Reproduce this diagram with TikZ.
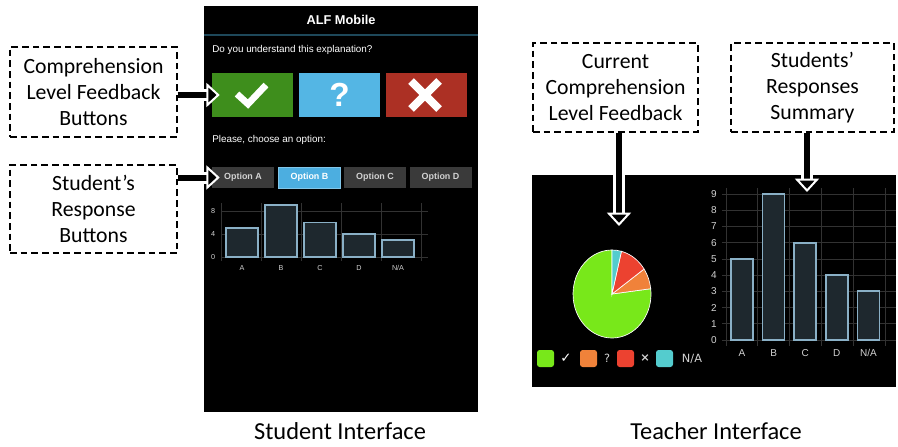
\documentclass[tikz,border=0pt]{standalone}
\usepackage{fontspec}
\setmainfont{Carlito}
\newfontfamily\uifont{Liberation Sans}
\newfontfamily\symfont{DejaVu Sans}
\usetikzlibrary{arrows.meta}
\definecolor{okgreen}{RGB}{62,142,28}
\definecolor{qblue}{RGB}{84,182,228}
\definecolor{nored}{RGB}{172,48,36}
\definecolor{optgray}{RGB}{58,58,58}
\definecolor{optblue}{RGB}{76,174,224}
\definecolor{barfill}{RGB}{30,40,46}
\definecolor{barline}{RGB}{138,176,198}
\definecolor{gridgray}{RGB}{50,50,50}
\definecolor{piegreen}{RGB}{120,232,26}
\definecolor{pieorange}{RGB}{240,130,58}
\definecolor{piered}{RGB}{236,66,48}
\definecolor{piecyan}{RGB}{84,204,206}
\definecolor{uitext}{RGB}{210,210,210}
\definecolor{headline}{RGB}{30,72,90}
\tikzset{
  callout/.style={draw,line width=1.1pt,dash pattern=on 5pt off 3pt,align=center,inner sep=0pt,
    font=\fontsize{16.3}{19.5}\selectfont},
  caption/.style={font=\fontsize{18.3}{22}\selectfont,inner sep=1pt},
  fbbtn/.style={minimum width=60.75pt,minimum height=33pt,inner sep=0pt},
  optbtn/.style={fill=optgray,minimum width=46.5pt,minimum height=15.75pt,inner sep=0pt,text=uitext,
    font=\uifont\bfseries\fontsize{6.7}{8}\selectfont},
  uilabel/.style={text=white,font=\uifont\fontsize{7.4}{9}\selectfont,anchor=west,inner sep=0pt},
  smalltick/.style={text=uitext,font=\uifont\fontsize{5.4}{6}\selectfont,inner sep=0pt},
  bigtick/.style={text=uitext,font=\uifont\fontsize{7.5}{9}\selectfont,inner sep=0pt},
  legsq/.style={minimum size=12.75pt,inner sep=0pt,rounded corners=2pt},
  legtxt/.style={text=uitext,font=\symfont\fontsize{8.5}{10}\selectfont,inner sep=0pt},
  bar/.style={fill=barfill,draw=barline,line width=1.3pt},
  grid line/.style={draw=gridgray,line width=0.6pt},
  halo/.style={draw=white,line width=9pt,shorten >=9pt,shorten <=0.8pt},
  pointer/.style={draw=black,line width=4.5pt,
    -{Triangle[width=18pt,length=10pt,color=white,fill=black,line width=1.5pt]}},
}
\begin{document}
\begin{tikzpicture}[x=0.75pt,y=0.75pt,yscale=-1,xscale=1]
\useasboundingbox (0,0) rectangle (898,446);
\fill[black] (204,6) rectangle (478,412);
\fill[black] (532,175) rectangle (896,387);
\draw[headline,line width=1.2pt] (204,35) -- (478,35);
\node[text=white,font=\uifont\bfseries\fontsize{9.6}{11}\selectfont] (apptitle) at (341,20) {ALF Mobile};
\node[uilabel] (question) at (212,50) {Do you understand this explanation?};
\node[fbbtn,fill=okgreen] (gbtn) at (252.5,95) {};
\node[fbbtn,fill=qblue] (qbtn) at (339.5,95) {};
\node[fbbtn,fill=nored] (xbtn) at (426.5,95) {};
\draw[white,line width=5pt] (237,94) -- (248,104) -- (266,85);
\node[text=white,font=\uifont\bfseries\fontsize{25}{25}\selectfont] (qmark) at (qbtn) {?};
\draw[white,line width=6pt] (411,81) -- (439,109) (411,109) -- (439,81);
\node[uilabel] (choose) at (212,140) {Please, choose an option:};
\node[optbtn] (optA) at (243,177.5) {Option A};
\node[optbtn,fill=optblue,draw=optblue!70!white,line width=0.6pt,text=white] (optB) at (309.5,177.5) {Option B};
\node[optbtn] (optC) at (375,177.5) {Option C};
\node[optbtn] (optD) at (440.5,177.5) {Option D};
\foreach \v in {0,4,8} {
  \draw[grid line] (221,{257-5.75*\v}) -- (428,{257-5.75*\v});
  \node[smalltick] (sax\v) at (213,{257-5.75*\v}) {\v};
}
\foreach \i in {0,...,5} \draw[grid line] ({221+40*\i},203) -- ({221+40*\i},261);
\foreach \v [count=\i from 0] in {5,9,6,4,3} \draw[bar] ({226+39*\i},257) rectangle ({258+39*\i},{257-5.75*\v});
\foreach \c [count=\i from 0] in {A,B,C,D,N/A} \node[smalltick] (sbl\i) at ({242+39*\i},268) {\c};
\foreach \v in {0,...,9} {
  \draw[grid line] (722,{340-16.22*\v}) -- (896,{340-16.22*\v});
  \node[bigtick] (tax\v) at (714,{340-16.22*\v}) {\v};
}
\foreach \i in {0,...,5} \draw[grid line] ({726+31.8*\i},188) -- ({726+31.8*\i},346);
\foreach \v [count=\i from 0] in {5,9,6,4,3} \draw[bar] ({731+31.6*\i},340) rectangle ({753+31.6*\i},{340-16.22*\v});
\foreach \c [count=\i from 0] in {A,B,C,D,N/A} \node[bigtick] (tbl\i) at ({742+31.6*\i},353) {\c};
\coordinate (pc) at (612,294);
\filldraw[fill=piegreen,draw=white,line width=0.5pt] (pc) -- ++(-6.9:39 and 44) arc[start angle=-6.9,end angle=270,x radius=39,y radius=44] -- cycle;
\filldraw[fill=pieorange,draw=white,line width=0.5pt] (pc) -- ++(-34.6:39 and 44) arc[start angle=-34.6,end angle=-6.9,x radius=39,y radius=44] -- cycle;
\filldraw[fill=piered,draw=white,line width=0.5pt] (pc) -- ++(-76:39 and 44) arc[start angle=-76,end angle=-34.6,x radius=39,y radius=44] -- cycle;
\filldraw[fill=piecyan,draw=white,line width=0.5pt] (pc) -- ++(-90:39 and 44) arc[start angle=-90,end angle=-76,x radius=39,y radius=44] -- cycle;
\node[legsq,fill=piegreen] (lg1) at (545.5,358.5) {};
\node[legtxt,text=white,font=\symfont\bfseries\fontsize{10}{10}\selectfont] (lt1) at (566,358.5) {✓};
\node[legsq,fill=pieorange] (lg2) at (588.5,358.5) {};
\node[legtxt] (lt2) at (607,358.5) {?};
\node[legsq,fill=piered] (lg3) at (625.5,358.5) {};
\node[legtxt,font=\symfont\bfseries\fontsize{8.5}{10}\selectfont] (lt3) at (645,358.5) {×};
\node[legsq,fill=piecyan] (lg4) at (664.5,358.5) {};
\node[legtxt] (lt4) at (692,358.5) {N/A};
\node[callout,minimum width=125.25pt,minimum height=67.5pt] (cmplab) at (93.5,92) {Comprehension\\Level Feedback\\Buttons};
\node[callout,minimum width=125.25pt,minimum height=66pt] (stdlab) at (93.5,209) {Student’s\\Response\\Buttons};
\node[callout,minimum width=123.75pt,minimum height=66.75pt] (curlab) at (615.5,87.5) {Current\\Comprehension\\Level Feedback};
\node[callout,minimum width=122.25pt,minimum height=66.75pt] (sumlab) at (812.5,87.5) {Students’\\Responses\\Summary};
\coordinate (curtip) at (619,226);
\coordinate (sumtip) at (807,192);
\draw[halo] (cmplab.east |- gbtn) -- ([xshift=6pt]gbtn.west);
\draw[pointer] (cmplab.east |- gbtn) -- ([xshift=6pt]gbtn.west);
\draw[halo] (stdlab.east |- optA) -- ([xshift=6pt]optA.west);
\draw[pointer] (stdlab.east |- optA) -- ([xshift=6pt]optA.west);
\draw[halo] (curlab.south -| curtip) -- (curtip);
\draw[pointer] (curlab.south -| curtip) -- (curtip);
\draw[halo] (sumlab.south -| sumtip) -- (sumtip);
\draw[pointer] (sumlab.south -| sumtip) -- (sumtip);
\node[caption] (stucap) at (340,431) {Student Interface};
\node[caption] (teacap) at (716,431) {Teacher Interface};
\end{tikzpicture}
\end{document}
